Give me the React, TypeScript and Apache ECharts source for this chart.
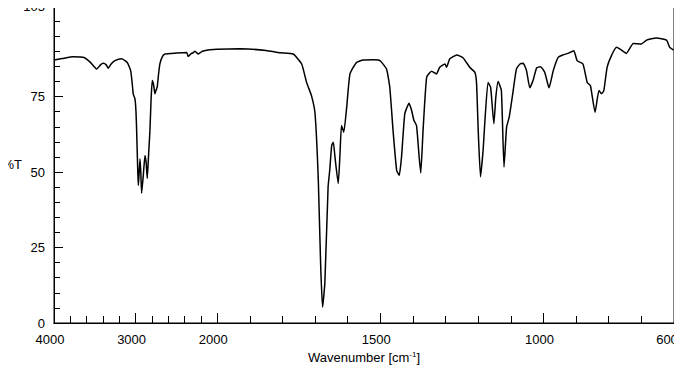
import React, { useEffect, useRef } from "react";
import * as echarts from "echarts";

// Wavenumber (cm-1) and %T
const wavenumbers = [
  4000, 3988, 3900, 3764, 3641, 3560, 3477, 3430, 3396, 3360, 3335, 3300, 3253, 3171, 3102, 3060,
  3040, 3029, 3008, 2995, 2987, 2975, 2967, 2960, 2946, 2936, 2926, 2905, 2885, 2870, 2857, 2840,
  2824, 2810, 2796, 2780, 2763, 2750, 2735, 2720, 2702, 2670, 2640, 2500, 2374, 2355, 2320, 2290,
  2273, 2232, 2180, 2089, 2000, 1930, 1850, 1808, 1767, 1741, 1726, 1711, 1700, 1690, 1683, 1677,
  1670, 1660, 1655, 1649, 1644, 1639, 1629, 1624, 1619, 1612, 1603, 1593, 1573, 1552, 1520, 1501,
  1481, 1471, 1461, 1450, 1442, 1435, 1425, 1412, 1404, 1397, 1389, 1381, 1376, 1369, 1358, 1343,
  1328, 1318, 1302, 1297, 1287, 1266, 1246, 1226, 1210, 1205, 1200, 1193, 1185, 1180, 1170, 1162,
  1152, 1146, 1139, 1129, 1121, 1113, 1105, 1095, 1083, 1072, 1062, 1052, 1042, 1032, 1021, 1009,
  996, 983, 970, 955, 940, 925, 907, 897, 879, 866, 856, 842, 830, 822, 815, 805,
  792, 776, 761, 746, 725, 700, 684, 654, 623, 613, 601,
];
const transmittance = [
  87.5, 87.2, 87.6, 88.2, 88.0, 86.5, 84.1, 85.5, 86.0, 85.5, 84.4, 85.8, 86.9, 87.5, 86.3, 83.6,
  79.0, 75.9, 74.3, 70.0, 63.8, 52.0, 45.6, 48.0, 54.4, 50.0, 43.0, 49.0, 55.5, 53.0, 47.9, 56.0,
  63.8, 74.0, 80.3, 79.0, 75.9, 77.0, 78.1, 82.0, 85.8, 88.3, 89.1, 89.4, 89.6, 88.3, 89.2, 89.6,
  90.0, 89.1, 90.0, 90.5, 90.7, 90.8, 90.3, 89.5, 89.1, 85.8, 79.7, 75.3, 69.3, 47.3, 19.8, 5.2,
  13.2, 45.1, 50.6, 58.8, 59.9, 55.0, 46.2, 55.0, 65.4, 63.2, 71.5, 82.5, 86.3, 87.1, 87.2, 86.9,
  84.1, 78.1, 63.8, 50.6, 48.9, 55.0, 69.3, 72.8, 70.4, 67.1, 65.4, 55.0, 49.7, 63.8, 81.4, 83.4,
  82.5, 84.7, 85.8, 84.7, 87.5, 88.8, 87.8, 84.7, 83.0, 79.2, 63.8, 48.4, 57.2, 66.0, 79.7, 78.1,
  66.0, 74.8, 80.0, 77.0, 51.7, 64.9, 68.2, 75.3, 84.1, 85.8, 86.0, 83.6, 77.9, 80.3, 84.5, 84.9,
  83.0, 77.9, 83.6, 88.0, 88.8, 89.3, 90.2, 86.9, 85.8, 79.7, 78.6, 69.8, 77.0, 75.9, 77.0, 84.7,
  88.5, 91.3, 90.4, 89.3, 92.6, 92.4, 93.7, 94.4, 93.7, 91.3, 90.4,
];

const xLabelValues = [4000, 3000, 2000, 1500, 1000];
const xEndLabel = [600];
const xMajorTicks = [3000, 2000, 1500, 1000];
const xMinorTicks = [
  3800, 3600, 3400, 3200, 2800, 2600, 2400, 2200, 1900, 1800, 1700, 1600, 1400, 1300, 1200, 1100,
  900, 800, 700,
];
const yLabelValues = [0, 25, 50, 75];
const yTopLabel = [105];
const yMajorTicks = [25, 50, 75];
const yMinorTicks = [5, 10, 15, 20, 30, 35, 40, 45, 55, 60, 65, 70, 80, 85, 90, 95, 100];

// piecewise wavenumber scale: 4000-2000 compressed 4x relative to 2000-600
const toAxis = (wn: number) => (wn >= 2000 ? (4000 - wn) / 4 : 500 + (2000 - wn));
const fromAxis = (u: number) => (u <= 500 ? 4000 - u * 4 : 2000 - (u - 500));

const FONT = "Liberation Sans, Arial, sans-serif";

export default function App() {
  const ref = useRef<HTMLDivElement>(null);
  useEffect(() => {
    if (!ref.current) return;
    const chart = echarts.init(ref.current, undefined, { renderer: "svg" });
    const data = wavenumbers.map((wn, i) => [toAxis(wn), transmittance[i]]);
    const xBase = {
      type: "value" as const,
      min: 0,
      max: toAxis(600),
      position: "bottom" as const,
      splitLine: { show: false },
      axisLine: { show: true, lineStyle: { color: "#000", width: 1 } },
    };
    const yBase = {
      type: "value" as const,
      min: 0,
      max: 105,
      position: "left" as const,
      splitLine: { show: false },
      axisLine: { show: true, lineStyle: { color: "#000", width: 1 } },
    };
    const lbl = { fontSize: 13, color: "#000", fontFamily: FONT };
    const xFmt = (v: number) => String(Math.round(fromAxis(v)));
    chart.setOption({
      animation: false,
      backgroundColor: "#fff",
      textStyle: { fontFamily: FONT },
      grid: {
        left: 54,
        right: 8,
        top: 6,
        bottom: 54,
        containLabel: false,
        outerBoundsMode: "none",
        show: true,
        borderColor: "#000",
        borderWidth: 1,
        backgroundColor: "transparent",
      },
      xAxis: [
        {
          ...xBase,
          name: "Wavenumber [cm{sup|-1}]",
          nameLocation: "middle",
          nameGap: 27,
          nameTextStyle: {
            ...lbl,
            rich: { sup: { ...lbl, fontSize: 8, verticalAlign: "top", padding: [0, 0, 6, 0] } },
          },
          axisTick: {
            show: true,
            inside: true,
            length: 10,
            customValues: xMajorTicks.map(toAxis),
            lineStyle: { color: "#000" },
          },
          axisLabel: {
            show: true,
            customValues: xLabelValues.map(toAxis),
            margin: 10,
            ...lbl,
            padding: [0, 8, 0, 0],
            formatter: xFmt,
          },
        },
        {
          ...xBase,
          axisTick: {
            show: true,
            inside: true,
            length: 7,
            customValues: xMinorTicks.map(toAxis),
            lineStyle: { color: "#000" },
          },
          axisLabel: {
            show: true,
            customValues: xEndLabel.map(toAxis),
            margin: 10,
            ...lbl,
            padding: [0, 14, 0, 0],
            formatter: xFmt,
          },
        },
      ],
      yAxis: [
        {
          ...yBase,
          name: "%T",
          nameLocation: "middle",
          nameRotate: 0,
          nameGap: 32,
          nameMoveOverlap: false,
          nameTextStyle: { ...lbl, align: "right" },
          axisTick: {
            show: true,
            inside: true,
            length: 9,
            customValues: yMajorTicks,
            lineStyle: { color: "#000" },
          },
          axisLabel: {
            show: true,
            customValues: yLabelValues,
            margin: 9,
            ...lbl,
          },
        },
        {
          ...yBase,
          axisTick: {
            show: true,
            inside: true,
            length: 6,
            customValues: yMinorTicks,
            lineStyle: { color: "#000" },
          },
          axisLabel: {
            show: true,
            customValues: yTopLabel,
            margin: 9,
            ...lbl,
            padding: [6, 0, 0, 0],
          },
        },
      ],
      series: [
        {
          type: "line",
          xAxisIndex: 0,
          yAxisIndex: 0,
          data,
          showSymbol: false,
          symbol: "none",
          smooth: 0.15,
          lineStyle: { color: "#000", width: 1.5 },
        },
      ],
    });
    return () => chart.dispose();
  }, []);
  return <div ref={ref} style={{ width: 682, height: 377, margin: -8 }} />;
}
